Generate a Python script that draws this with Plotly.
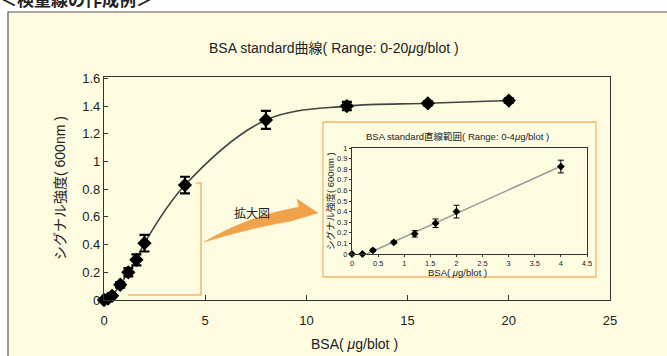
import numpy as np
import plotly.graph_objects as go

# ---- data: full standard curve (0-20 ug/blot) ----
bsa_full = [0, 0.2, 0.4, 0.8, 1.2, 1.6, 2, 4, 8, 12, 16, 20]
signal_full = [0, 0.01, 0.03, 0.11, 0.20, 0.29, 0.41, 0.83, 1.30, 1.40, 1.42, 1.44]
err_full = [0.01, 0.01, 0.01, 0.02, 0.03, 0.04, 0.06, 0.06, 0.065, 0.03, 0.015, 0.015]

# ---- data: linear range (0-4 ug/blot) ----
bsa_lin = [0, 0.2, 0.4, 0.8, 1.2, 1.6, 2, 4]
signal_lin = [0, 0.0, 0.035, 0.11, 0.19, 0.29, 0.40, 0.825]
err_lin = [0.005, 0.005, 0.01, 0.012, 0.03, 0.04, 0.06, 0.06]

main_xticks = [0, 5, 10, 15, 20, 25]
main_yticks = [0, 0.2, 0.4, 0.6, 0.8, 1, 1.2, 1.4, 1.6]
inset_xticks = [0, 0.5, 1, 1.5, 2, 2.5, 3, 3.5, 4, 4.5]
inset_yticks = [0, 0.1, 0.2, 0.3, 0.4, 0.5, 0.6, 0.7, 0.8, 0.9, 1]

W, H = 667, 356
ML, MR, MT, MB = 104, 57, 77, 56
PW, PH = W - ML - MR, H - MT - MB

BG = "#FDFCE1"
ORANGE = "#F0A24A"
ORANGE_LIGHT = "#F5B56A"
FONT = "Liberation Sans, Arial, Noto Sans CJK JP, sans-serif"
JFONT = "Noto Sans CJK JP, Liberation Sans, sans-serif"


def px(x):
    return (x - ML) / PW


def py(y):
    return (H - MB - y) / PH


# least-squares line over the linear range (points above zero)
fx = np.array(bsa_lin[2:])
fy = np.array(signal_lin[2:])
slope, intercept = np.polyfit(fx, fy, 1)
x_fit = [-intercept / slope, max(bsa_lin)]
y_fit = [slope * v + intercept for v in x_fit]

fig = go.Figure()

# main curve
fig.add_trace(go.Scatter(
    x=bsa_full, y=signal_full, mode="lines",
    line=dict(color="#444444", width=1.6, shape="spline", smoothing=1.0),
    hoverinfo="skip", showlegend=False, cliponaxis=False,
))
fig.add_trace(go.Scatter(
    x=bsa_full, y=signal_full, mode="markers",
    marker=dict(symbol="diamond", size=11, color="black"),
    error_y=dict(type="data", array=err_full, color="black", thickness=2.2, width=5),
    showlegend=False, cliponaxis=False,
))

# inset: linear range
fig.add_trace(go.Scatter(
    x=x_fit, y=y_fit, mode="lines", xaxis="x2", yaxis="y2",
    line=dict(color="#9a9a9a", width=1.5), showlegend=False, hoverinfo="skip",
))
fig.add_trace(go.Scatter(
    x=bsa_lin, y=signal_lin, mode="markers", xaxis="x2", yaxis="y2",
    marker=dict(symbol="diamond", size=6, color="black"),
    error_y=dict(type="data", array=err_lin, color="black", thickness=1, width=3),
    showlegend=False, cliponaxis=False,
))

axis_common = dict(showgrid=False, zeroline=False, showline=True, mirror=True,
                   linecolor="#333333")

shapes = [
    # outer panel
    dict(type="rect", xref="paper", yref="paper", layer="below",
         x0=px(8), y0=py(420), x1=px(720), y1=py(12),
         fillcolor=BG, line=dict(color="#555555", width=1.2)),
    # inset panel
    dict(type="rect", xref="paper", yref="paper", layer="below",
         x0=px(323), y0=py(277), x1=px(596), y1=py(122),
         fillcolor=BG, line=dict(color=ORANGE_LIGHT, width=1.3)),
    # bracket marking the enlarged region
    dict(type="path", xref="paper", yref="paper", layer="below",
         path=(f"M {px(196)},{py(183)} L {px(201)},{py(183)} "
               f"L {px(201)},{py(295)} L {px(128)},{py(295)}"),
         line=dict(color=ORANGE_LIGHT, width=1.5)),
    # swoosh arrow
    dict(type="path", xref="paper", yref="paper", layer="below",
         path=(f"M {px(204)},{py(242)} Q {px(248)},{py(216)} {px(299)},{py(207)} "
               f"L {px(297)},{py(199)} L {px(318)},{py(213)} L {px(291)},{py(221)} "
               f"Q {px(250)},{py(228)} {px(204)},{py(242)} Z"),
         fillcolor=ORANGE, line=dict(color=ORANGE, width=0.5)),
]


def label(text, x, y, size, family=FONT, angle=0, xanchor="center"):
    return dict(text=text, x=px(x), y=py(y), xref="paper", yref="paper",
                xanchor=xanchor, yanchor="middle", textangle=angle, showarrow=False,
                font=dict(family=family, size=size, color="#222222"))


annotations = [
    label("<b>＜検量線の作成例＞</b>", -2, -2, 17, family=JFONT, xanchor="left"),
    label("BSA standard曲線( Range: 0-20<i>μ</i>g/blot )", 334, 48, 14),
    label("シグナル強度( 600nm )", 60, 188, 14, angle=-90),
    label("BSA( <i>μ</i>g/blot )", 354, 344, 14),
    label("拡大図", 252, 212, 12, family=JFONT),
    label("BSA standard直線範囲( Range: 0-4<i>μ</i>g/blot )", 457, 136, 9.5),
    label("シグナル強度( 600nm )", 330, 201, 9.5, angle=-90),
    label("BSA( <i>μ</i>g/blot )", 457, 272, 9.5),
]

fig.update_layout(
    width=W, height=H,
    margin=dict(l=ML, r=MR, t=MT, b=MB),
    paper_bgcolor="white", plot_bgcolor="rgba(0,0,0,0)",
    font=dict(family=FONT, color="#222222"),
    xaxis=dict(**axis_common, range=[0, 25], tickvals=main_xticks, ticks="inside",
               ticklen=5, tickcolor="#333333", linewidth=1.3,
               tickfont=dict(size=13), ticklabelstandoff=8),
    yaxis=dict(**axis_common, range=[0, 1.61], tickvals=main_yticks, ticks="inside",
               ticklen=4, tickcolor="#333333", linewidth=1.3,
               tickfont=dict(size=13)),
    xaxis2=dict(**axis_common, domain=[px(352), px(587)], anchor="y2",
                range=[0, 4.5], tickvals=inset_xticks, ticks="outside", ticklen=2,
                tickcolor="#333333", linewidth=1, tickfont=dict(size=7.5)),
    yaxis2=dict(**axis_common, domain=[py(254), py(148)], anchor="x2",
                range=[0, 1], tickvals=inset_yticks, ticks="outside", ticklen=2,
                tickcolor="#333333", linewidth=1, tickfont=dict(size=7.5)),
    shapes=shapes,
    annotations=annotations,
)

fig.write_html("out.html")
